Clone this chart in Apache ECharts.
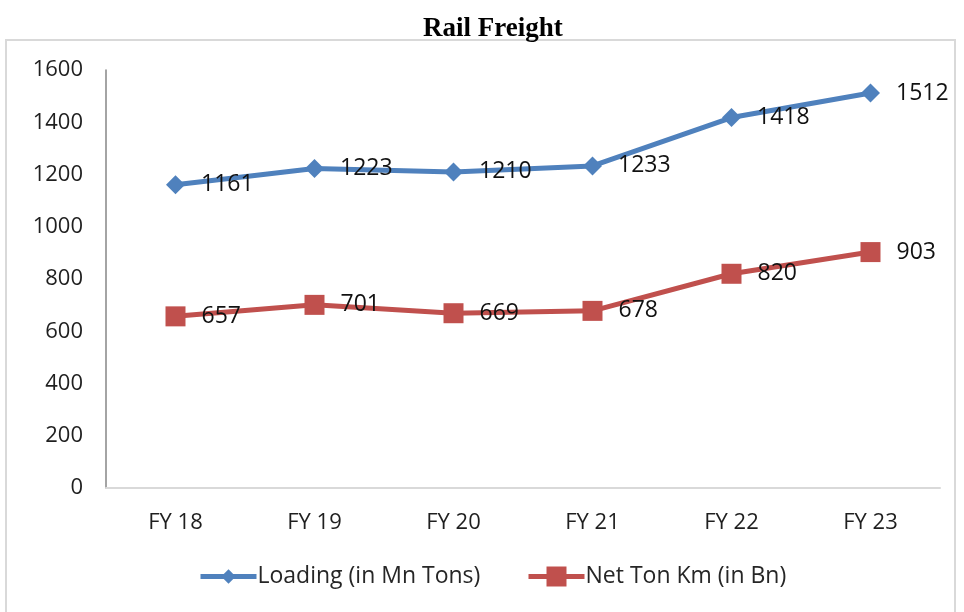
<!DOCTYPE html>
<html>
<head>
<meta charset="utf-8">
<title>Rail Freight</title>
<script src="https://cdn.jsdelivr.net/npm/echarts@6/dist/echarts.min.js"></script>
<style>
  html, body { margin: 0; padding: 0; background: #ffffff; }
  #chart { width: 964px; height: 612px; }
</style>
</head>
<body>
<div id="chart"></div>
<script>
// Fiscal years on the category axis
var years = ['FY 18', 'FY 19', 'FY 20', 'FY 21', 'FY 22', 'FY 23'];
// Freight loading, million tonnes
var loading = [1161, 1223, 1210, 1233, 1418, 1512];
// Net tonne-kilometres, billions
var netTonKm = [657, 701, 669, 678, 820, 903];
// Series names shown in the legend
var seriesNames = ['Loading (in Mn Tons)', 'Net Ton Km (in Bn)'];

var textFont = 'Open Sans';
var chart = echarts.init(document.getElementById('chart'), null, { renderer: 'canvas' });

var labelStyle = {
  show: true,
  position: 'right',
  distance: 16,
  color: '#111111',
  fontFamily: textFont,
  fontSize: 23
};

// One legend block per series so each key keeps its own marker size
function legendFor(name, left, iconHeight) {
  return {
    data: [name],
    left: left,
    top: 565,
    padding: 0,
    itemWidth: 56,
    itemHeight: iconHeight,
    lineStyle: { width: 5 },
    textStyle: { fontFamily: textFont, fontSize: 23, color: '#262626', padding: [0, 0, 0, -4] }
  };
}

chart.setOption({
  backgroundColor: '#ffffff',
  animation: false,
  title: {
    text: 'Rail Freight',
    left: 418,
    top: 11,
    textStyle: {
      fontFamily: 'Liberation Serif',
      fontWeight: 'bold',
      fontSize: 27,
      color: '#000000'
    }
  },
  graphic: [{
    type: 'rect',
    shape: { x: 6, y: 40, width: 949, height: 600 },
    style: { fill: 'none', stroke: '#d9d9d9', lineWidth: 2 },
    silent: true,
    z: -1
  }],
  grid: { left: 106, right: 24, top: 70, bottom: 124, containLabel: false },
  legend: [
    legendFor(seriesNames[0], 198, 18),
    legendFor(seriesNames[1], 526, 25)
  ],
  xAxis: {
    type: 'category',
    data: years,
    boundaryGap: true,
    axisLine: { show: true, lineStyle: { color: '#d9d9d9', width: 2 } },
    axisTick: { show: false },
    axisLabel: { fontFamily: textFont, fontSize: 22, color: '#1f1f1f', margin: 24 }
  },
  yAxis: {
    type: 'value',
    min: 0,
    max: 1600,
    interval: 200,
    splitLine: { show: false },
    axisLine: { show: true, lineStyle: { color: '#868686', width: 1.5 } },
    axisTick: { show: false },
    axisLabel: {
      fontFamily: textFont,
      fontSize: 22,
      color: '#1f1f1f',
      margin: 23,
      formatter: function (v) { return String(v); }
    }
  },
  series: [
    {
      name: seriesNames[0],
      type: 'line',
      data: loading,
      symbol: 'diamond',
      symbolSize: 19,
      lineStyle: { color: '#4f81bd', width: 5 },
      itemStyle: { color: '#4f81bd' },
      label: labelStyle
    },
    {
      name: seriesNames[1],
      type: 'line',
      data: netTonKm,
      symbol: 'rect',
      symbolSize: 20,
      lineStyle: { color: '#c0504d', width: 5 },
      itemStyle: { color: '#c0504d' },
      label: labelStyle
    }
  ]
});
</script>
</body>
</html>
